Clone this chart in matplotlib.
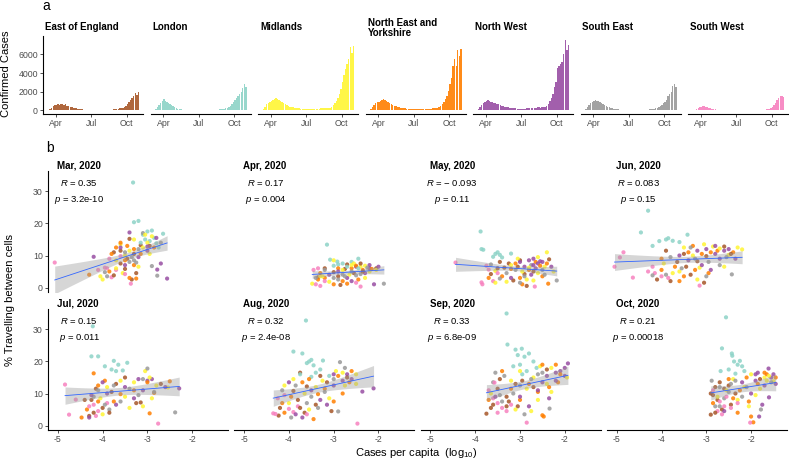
import numpy as np
import matplotlib.pyplot as plt

plt.rcParams['font.family'] = ['Liberation Sans', 'DejaVu Sans']
plt.rcParams['mathtext.fontset'] = 'custom'
plt.rcParams['mathtext.rm'] = 'Liberation Sans'
plt.rcParams['mathtext.it'] = 'Liberation Sans:italic'
plt.rcParams['axes.unicode_minus'] = False

W, H = 789, 463

# -----------------------------
# Regions (index used as the region code below)
# 0 East of England, 1 London, 2 Midlands, 3 North East and Yorkshire,
# 4 North West, 5 South East, 6 South West
# -----------------------------
region_titles = ["East of England", "London", "Midlands", "North East and\nYorkshire",
                 "North West", "South East", "South West"]
region_colors = ["#A65628", "#8DD3C7", "#FFF533", "#FF7F00", "#984EA3", "#999999", "#F781BF"]

# -----------------------------
# Panel a: daily confirmed cases, one value every 4 days from 5 Mar 2020
# -----------------------------
case_start_day = 4   # days after 1 Mar
case_step = 4
cases_eoe = [5, 20, 60, 150, 300, 450, 550, 620,
             680, 560, 650, 700, 600, 650, 520, 480,
             400, 350, 300, 260, 220, 180, 150,
             130, 110, 95, 80, 70, 60, 55,
             50, 45, 50, 45, 55, 50, 60, 55,
             65, 70, 75, 70, 90, 100, 110, 120,
             150, 200, 250, 300, 280, 400, 450,
             700, 900, 1100, 1300, 1500, 1900, 1700, 2000]
cases_london = [20, 60, 150, 350, 600, 850, 1050, 1180,
                1000, 900, 750, 650, 550, 450, 380, 300,
                200, 160, 120, 100, 80, 70, 60,
                50, 45, 40, 35, 35, 30, 30,
                30, 30, 35, 35, 40, 40, 45, 50,
                55, 60, 70, 80, 90, 110, 130, 150,
                180, 250, 300, 400, 500, 700, 900,
                1100, 1300, 1600, 1800, 2000, 2400, 2800, 2500]
cases_midlands = [10, 50, 200, 400, 650, 850, 950, 1000,
                  1100, 1200, 1300, 1250, 1150, 1000, 900, 800,
                  650, 550, 480, 420, 380, 330, 300,
                  280, 250, 230, 200, 190, 180, 170,
                  160, 160, 170, 170, 180, 180, 200, 190,
                  200, 220, 210, 230, 250, 270, 300, 280,
                  400, 600, 800, 1000, 1300, 1800, 2300,
                  3000, 3800, 4400, 5000, 5500, 6800, 6200, 6900]
cases_ney = [5, 30, 150, 350, 600, 800, 900, 950,
             1000, 1150, 1250, 1100, 1000, 900, 800, 700,
             600, 500, 430, 380, 330, 300, 270,
             250, 230, 200, 180, 170, 160, 150,
             150, 140, 140, 130, 130, 140, 150, 160,
             170, 180, 190, 200, 220, 230, 260, 280,
             350, 500, 700, 900, 1200, 1600, 2100,
             2800, 3500, 4800, 5500, 4800, 6500, 5800, 6600]
cases_nw = [5, 30, 150, 350, 600, 800, 950, 1000,
            1070, 1000, 950, 900, 850, 750, 700, 650,
            550, 500, 450, 400, 350, 320, 290,
            270, 250, 230, 210, 200, 190, 180,
            180, 190, 200, 210, 230, 250, 270, 290,
            300, 310, 330, 320, 300, 320, 350, 380,
            500, 700, 1000, 1300, 1800, 2500, 3000,
            4500, 4800, 5000, 5200, 6000, 7500, 6500, 7000]
cases_se = [5, 30, 150, 350, 600, 850, 950, 1050,
            1070, 1050, 1000, 900, 800, 700, 600, 500,
            400, 330, 270, 220, 180, 150, 130,
            110, 100, 90, 80, 70, 65, 60,
            55, 50, 50, 55, 55, 60, 60, 65,
            70, 75, 80, 90, 100, 110, 130, 150,
            180, 230, 300, 380, 450, 600, 800,
            900, 1100, 1500, 1800, 2000, 2600, 2850, 2500]
cases_sw = [2, 10, 40, 100, 200, 300, 380, 420,
            460, 440, 400, 350, 300, 250, 200, 160,
            130, 100, 80, 60, 50, 40, 35,
            30, 25, 25, 20, 20, 20, 20,
            20, 20, 20, 20, 25, 25, 25, 30,
            30, 35, 35, 40, 45, 50, 55, 60,
            70, 80, 100, 120, 150, 200, 250,
            400, 600, 800, 1100, 1300, 1500, 1600, 1400]
cases_all = [cases_eoe, cases_london, cases_midlands, cases_ney, cases_nw, cases_se, cases_sw]

month_ticks = [31, 122, 214]
month_labels = ["Apr", "Jul", "Oct"]
case_ticks = [0, 2000, 4000, 6000]

# -----------------------------
# Panel b: (log10 cases per capita, % travelling, region code)
# -----------------------------
panel_titles = ["Mar, 2020", "Apr, 2020", "May, 2020", "Jun, 2020",
                "Jul, 2020", "Aug, 2020", "Sep, 2020", "Oct, 2020"]
r_labels = ["0.35", "0.17", "\u2212 0.093", "0.083", "0.15", "0.32", "0.33", "0.21"]
p_labels = ["3.2e-10", "0.004", "0.11", "0.15", "0.011", "2.4e-08", "6.8e-09", "0.00018"]

mar_pts = [(-3.75, 11.0, 0), (-3.6, 11.5, 0), (-3.4, 15.2, 0), (-3.45, 9.0, 0), (-3.3, 10.5, 0), (-3.25, 4.5, 0), (-3.5, 5.8, 0), (-3.35, 2.5, 0), (-3.6, 7.5, 0), (-3.15, 13.2, 0),
           (-3.32, 32.8, 1), (-3.3, 20.4, 1), (-3.2, 20.8, 1), (-3.1, 16.5, 1), (-3.0, 17.5, 1), (-2.9, 17.8, 1), (-2.85, 15.5, 1), (-2.75, 12.5, 1), (-2.95, 14.5, 1), (-3.05, 15.0, 1), (-2.8, 13.8, 1), (-3.15, 14.0, 1),
           (-4.05, 3.5, 2), (-3.6, 13.5, 2), (-3.3, 15.0, 2), (-3.1, 12.5, 2), (-3.0, 14.0, 2), (-3.5, 10.0, 2), (-3.7, 8.5, 2), (-3.2, 6.5, 2), (-3.4, 11.5, 2), (-2.95, 10.5, 2), (-3.55, 4.5, 2),
           (-3.7, 12.5, 3), (-3.6, 14.0, 3), (-3.45, 13.0, 3), (-3.3, 12.0, 3), (-3.4, 3.0, 3), (-3.25, 2.8, 3), (-3.8, 10.5, 3), (-3.5, 8.5, 3), (-3.15, 10.5, 3), (-3.3, 7.0, 3),
           (-4.2, 9.6, 4), (-2.56, 2.8, 4), (-2.78, 5.6, 4), (-2.7, 7.5, 4), (-3.4, 17.2, 4), (-3.6, 12.5, 4), (-3.2, 9.5, 4), (-3.0, 11.5, 4), (-3.5, 7.0, 4),
           (-2.78, 3.7, 5), (-2.9, 6.7, 5), (-3.1, 17.0, 5), (-3.4, 8.0, 5), (-3.3, 8.5, 5), (-3.25, 7.8, 5), (-3.9, 3.5, 5), (-3.5, 11.0, 5), (-3.2, 12.0, 5), (-3.35, 9.5, 5),
           (-5.07, 7.8, 6), (-3.95, 6.2, 6), (-3.9, 6.0, 6), (-3.37, 1.2, 6), (-3.7, 5.5, 6), (-3.8, 3.2, 6), (-3.6, 9.8, 6), (-3.5, 4.2, 6), (-3.85, 9.0, 6),
           (-4.3, 4.0, 3), (-4.1, 5.5, 6), (-4.0, 2.5, 2), (-3.95, 4.8, 5), (-3.85, 5.0, 3), (-3.75, 3.8, 0), (-2.9, 16.0, 2), (-2.8, 15.5, 4),
           (-2.7, 14.0, 5), (-2.85, 12.5, 3), (-2.95, 13.0, 0), (-3.05, 16.5, 2), (-2.65, 16.8, 1), (-3.0, 12.8, 4), (-3.7, 6.0, 2)]

apr_pts = [(-3.2, 6.0, 0), (-2.9, 3.5, 0), (-2.75, 5.8, 0), (-2.55, 4.5, 0), (-2.05, 6.0, 0), (-3.0, 4.8, 0), (-2.7, 7.2, 0), (-2.85, 0.8, 0), (-3.35, 3.2, 0),
           (-3.15, 13.4, 1), (-3.08, 8.7, 1), (-2.92, 8.1, 1), (-2.45, 9.0, 1), (-2.8, 7.5, 1), (-2.6, 8.0, 1), (-3.0, 6.8, 1), (-2.7, 6.5, 1), (-2.9, 7.2, 1),
           (-3.48, 1.2, 2), (-3.3, 3.5, 2), (-2.8, 5.5, 2), (-2.55, 7.5, 2), (-2.4, 6.5, 2), (-3.0, 8.5, 2), (-2.65, 4.0, 2), (-3.1, 1.8, 2), (-2.2, 5.0, 2), (-2.3, 3.0, 2),
           (-3.2, 3.0, 3), (-3.0, 1.0, 3), (-2.8, 2.0, 3), (-2.6, 6.0, 3), (-2.35, 5.5, 3), (-2.9, 6.0, 3), (-3.3, 4.5, 3), (-2.7, 1.2, 3), (-2.45, 2.5, 3),
           (-2.1, 1.0, 4), (-2.3, 4.5, 4), (-2.5, 6.5, 4), (-2.7, 3.0, 4), (-2.9, 5.0, 4), (-2.2, 6.0, 4), (-3.1, 4.0, 4), (-2.6, 2.0, 4),
           (-1.88, 1.2, 5), (-2.8, 4.0, 5), (-2.75, 3.5, 5), (-2.6, 5.0, 5), (-3.0, 3.0, 5), (-2.4, 4.2, 5), (-2.9, 2.5, 5), (-3.2, 5.5, 5), (-2.5, 3.8, 5),
           (-3.45, 5.5, 6), (-3.4, 1.0, 6), (-3.3, 0.5, 6), (-2.4, 0.3, 6), (-3.2, 2.0, 6), (-3.35, 6.0, 6), (-2.5, 1.5, 6),
           (-2.3, 6.8, 2), (-2.2, 7.0, 4), (-2.4, 7.5, 0), (-2.15, 5.8, 3), (-2.25, 6.2, 5), (-2.5, 6.8, 3), (-2.35, 5.0, 0),
           (-2.05, 5.5, 2), (-2.0, 6.5, 4), (-3.35, 2.5, 3), (-3.25, 3.5, 2), (-3.4, 3.0, 5), (-2.45, 6.0, 1), (-2.6, 7.0, 2)]

may_pts = [(-3.45, 8.0, 0), (-3.25, 7.5, 0), (-3.05, 6.5, 0), (-2.9, 4.2, 0), (-3.15, 2.2, 0), (-2.85, 0.5, 0), (-3.35, 6.2, 0), (-2.7, 5.0, 0), (-3.0, 8.5, 0),
           (-3.88, 17.5, 1), (-3.86, 12.0, 1), (-3.82, 11.8, 1), (-3.55, 10.5, 1), (-3.45, 10.2, 1), (-3.2, 10.6, 1), (-3.4, 9.4, 1), (-3.6, 9.6, 1), (-3.5, 11.0, 1),
           (-2.4, 11.0, 2), (-3.55, 5.2, 2), (-3.2, 7.0, 2), (-2.95, 5.0, 2), (-2.85, 2.5, 2), (-3.05, 9.0, 2), (-2.6, 4.5, 2), (-3.3, 1.8, 2), (-2.7, 2.2, 2), (-2.45, 6.5, 2),
           (-2.37, 1.2, 3), (-3.4, 3.5, 3), (-3.1, 7.5, 3), (-2.8, 5.5, 3), (-2.95, 1.0, 3), (-3.2, 5.8, 3), (-2.5, 3.5, 3), (-2.65, 8.0, 3), (-3.0, 3.0, 3),
           (-2.8, 8.5, 4), (-2.7, 9.0, 4), (-2.6, 7.5, 4), (-2.9, 6.5, 4), (-3.0, 8.0, 4), (-2.55, 8.2, 4), (-2.75, 4.0, 4), (-3.2, 3.0, 4), (-2.65, 6.0, 4),
           (-2.18, 2.2, 5), (-3.65, 7.2, 5), (-3.1, 5.5, 5), (-2.9, 3.5, 5), (-3.3, 4.5, 5), (-2.75, 7.0, 5), (-2.5, 5.5, 5), (-3.0, 1.5, 5),
           (-4.44, 7.8, 6), (-3.86, 1.6, 6), (-3.84, 1.0, 6), (-2.67, 0.3, 6), (-3.7, 5.6, 6), (-3.75, 6.8, 6), (-3.5, 4.5, 6),
           (-2.3, 6.5, 4), (-2.25, 5.0, 2), (-2.4, 7.5, 3), (-2.5, 8.0, 4), (-2.45, 4.0, 5), (-2.6, 9.5, 2), (-2.35, 8.8, 0), (-2.55, 6.8, 3),
           (-3.7, 3.0, 3), (-3.6, 2.0, 6), (-3.65, 4.2, 0), (-3.55, 1.5, 2), (-3.45, 2.8, 5), (-3.5, 6.0, 0), (-2.7, 7.0, 4), (-2.8, 6.2, 2)]

jun_pts = [(-3.9, 11.5, 0), (-3.65, 8.0, 0), (-3.45, 6.5, 0), (-3.35, 4.0, 0), (-3.2, 8.2, 0), (-3.0, 9.8, 0), (-3.8, 2.0, 0), (-3.5, 10.5, 0), (-3.05, 1.5, 0),
           (-4.3, 24.0, 1), (-4.46, 17.2, 1), (-4.05, 14.5, 1), (-3.9, 15.0, 1), (-3.85, 15.4, 1), (-3.75, 14.6, 1), (-3.6, 14.2, 1), (-3.42, 16.5, 1), (-4.2, 13.0, 1),
           (-2.2, 11.9, 2), (-3.5, 12.5, 2), (-3.3, 10.0, 2), (-3.05, 13.5, 2), (-2.85, 12.8, 2), (-3.6, 5.0, 2), (-3.2, 2.5, 2), (-2.6, 6.5, 2), (-3.95, 7.5, 2), (-2.5, 10.2, 2), (-3.15, 6.2, 2),
           (-3.4, 11.0, 3), (-3.3, 13.0, 3), (-2.75, 11.5, 3), (-3.7, 6.5, 3), (-3.5, 3.5, 3), (-3.1, 10.5, 3), (-4.0, 9.0, 3), (-2.95, 4.5, 3), (-3.25, 5.5, 3),
           (-3.2, 11.5, 4), (-3.0, 12.0, 4), (-2.8, 10.5, 4), (-2.6, 11.5, 4), (-3.4, 8.5, 4), (-3.1, 7.0, 4), (-2.9, 5.5, 4), (-3.6, 10.0, 4), (-2.7, 9.0, 4),
           (-2.43, 4.1, 5), (-3.8, 9.5, 5), (-3.55, 6.0, 5), (-3.25, 9.0, 5), (-2.95, 8.0, 5), (-2.7, 7.0, 5), (-3.0, 3.5, 5), (-3.9, 4.0, 5), (-3.35, 12.5, 5),
           (-5.05, 6.5, 6), (-4.93, 9.4, 6), (-4.85, 11.0, 6), (-4.64, 3.1, 6), (-3.15, 0.6, 6), (-4.3, 5.0, 6), (-4.2, 6.5, 6), (-4.15, 4.5, 6), (-4.0, 3.5, 6),
           (-2.5, 12.0, 4), (-2.4, 11.0, 3), (-2.3, 12.5, 2), (-2.6, 12.8, 0), (-2.7, 12.2, 2), (-2.55, 9.5, 5), (-2.8, 13.0, 4), (-2.45, 10.5, 0),
           (-2.35, 9.0, 4), (-2.9, 11.0, 3), (-4.1, 2.5, 0), (-4.0, 5.5, 3), (-3.85, 3.0, 6), (-4.2, 3.8, 5), (-3.75, 4.5, 2), (-3.6, 2.0, 3)]

jul_pts = [(-4.4, 8.0, 0), (-4.25, 8.0, 0), (-4.3, 3.0, 0), (-4.0, 5.5, 0), (-3.8, 10.5, 0), (-3.5, 15.0, 0), (-3.25, 7.0, 0), (-3.15, 7.2, 0), (-3.7, 13.0, 0), (-4.15, 11.5, 0),
           (-4.22, 31.0, 1), (-4.25, 21.6, 1), (-4.1, 21.6, 1), (-3.95, 18.5, 1), (-3.8, 17.5, 1), (-3.75, 20.2, 1), (-3.65, 19.0, 1), (-3.55, 17.2, 1), (-3.45, 19.6, 1), (-3.7, 17.0, 1),
           (-2.54, 11.9, 2), (-3.05, 17.0, 2), (-3.4, 5.5, 2), (-3.1, 6.0, 2), (-3.6, 14.0, 2), (-3.9, 12.0, 2), (-4.05, 8.5, 2), (-3.3, 13.5, 2), (-2.9, 8.5, 2), (-3.5, 9.0, 2),
           (-4.47, 2.5, 3), (-4.2, 16.3, 3), (-4.35, 5.0, 3), (-3.95, 14.0, 3), (-3.6, 9.8, 3), (-3.3, 11.0, 3), (-2.95, 3.8, 3), (-2.85, 10.2, 3), (-3.75, 7.5, 3), (-4.1, 12.5, 3),
           (-2.29, 11.6, 4), (-4.3, 2.5, 4), (-3.2, 14.5, 4), (-3.0, 14.0, 4), (-3.5, 12.0, 4), (-3.7, 6.5, 4), (-3.9, 10.0, 4), (-3.3, 8.5, 4), (-3.1, 11.0, 4), (-4.0, 13.5, 4),
           (-2.38, 4.1, 5), (-3.0, 17.8, 5), (-3.85, 5.0, 5), (-3.6, 7.5, 5), (-3.4, 11.5, 5), (-4.1, 11.0, 5), (-3.2, 9.5, 5), (-3.75, 12.5, 5), (-4.2, 9.0, 5),
           (-4.84, 12.8, 6), (-4.75, 3.4, 6), (-4.6, 8.1, 6), (-2.76, 0.6, 6), (-4.2, 6.5, 6), (-4.1, 4.5, 6), (-4.15, 3.0, 6), (-3.9, 7.0, 6),
           (-3.0, 13.5, 3), (-2.9, 14.5, 4), (-2.8, 12.5, 2), (-2.7, 13.0, 0), (-2.6, 12.0, 4), (-2.95, 15.0, 2), (-3.1, 14.5, 5), (-2.5, 13.8, 3),
           (-4.3, 6.0, 6), (-4.2, 4.0, 0), (-4.1, 7.5, 3), (-4.0, 3.5, 2), (-3.95, 6.5, 5), (-4.25, 9.5, 4), (-3.85, 4.0, 0), (-2.85, 10.5, 5)]

aug_pts = [(-4.23, 3.1, 0), (-3.75, 16.5, 0), (-3.8, 8.0, 0), (-3.6, 12.2, 0), (-3.4, 6.5, 0), (-3.15, 13.5, 0), (-3.05, 4.5, 0), (-3.65, 4.0, 0), (-3.9, 10.8, 0), (-3.3, 15.5, 0),
           (-3.62, 32.8, 1), (-3.9, 23.1, 1), (-3.7, 22.5, 1), (-3.55, 20.0, 1), (-3.5, 20.5, 1), (-3.45, 18.8, 1), (-3.24, 20.3, 1), (-3.6, 19.5, 1), (-3.4, 16.5, 1), (-3.3, 17.5, 1), (-3.1, 15.5, 1), (-3.75, 16.0, 1), (-3.5, 15.2, 1),
           (-2.95, 17.0, 2), (-3.25, 14.0, 2), (-3.4, 12.0, 2), (-3.65, 10.0, 2), (-3.9, 14.5, 2), (-3.1, 8.5, 2), (-4.1, 12.5, 2), (-2.75, 12.5, 2), (-3.55, 5.0, 2), (-2.5, 13.0, 2),
           (-3.95, 9.0, 3), (-3.7, 13.5, 3), (-3.45, 2.0, 3), (-3.2, 11.5, 3), (-3.0, 7.5, 3), (-2.8, 10.0, 3), (-4.15, 7.0, 3), (-3.55, 14.5, 3), (-2.6, 17.0, 3), (-3.35, 9.8, 3),
           (-2.11, 11.6, 4), (-2.36, 10.6, 4), (-3.7, 2.5, 4), (-3.3, 8.0, 4), (-3.0, 12.5, 4), (-2.8, 14.0, 4), (-3.5, 11.0, 4), (-4.0, 13.5, 4), (-3.15, 6.5, 4), (-2.7, 16.0, 4),
           (-2.9, 4.4, 5), (-2.86, 19.8, 5), (-3.85, 12.5, 5), (-3.5, 9.0, 5), (-3.2, 10.5, 5), (-3.6, 7.0, 5), (-4.15, 11.0, 5), (-3.35, 5.5, 5), (-3.0, 14.5, 5),
           (-4.35, 3.8, 6), (-4.3, 3.6, 6), (-4.0, 5.2, 6), (-3.9, 4.2, 6), (-3.8, 6.0, 6), (-2.47, 0.6, 6), (-4.1, 9.5, 6), (-3.6, 3.5, 6),
           (-2.8, 16.5, 2), (-2.7, 15.0, 0), (-2.6, 14.5, 4), (-2.9, 15.5, 3), (-2.75, 18.0, 5), (-2.5, 16.0, 2), (-3.0, 16.0, 4), (-2.65, 13.5, 3),
           (-4.2, 5.5, 0), (-4.1, 4.0, 3), (-4.0, 7.0, 2), (-3.95, 2.5, 5), (-3.85, 3.5, 4), (-4.25, 8.5, 6), (-3.75, 5.5, 0)]

sep_pts = [(-3.75, 3.7, 0), (-3.5, 11.5, 0), (-3.3, 9.0, 0), (-3.1, 13.0, 0), (-3.25, 7.5, 0), (-3.45, 14.5, 0), (-2.95, 14.0, 0), (-3.05, 6.0, 0), (-2.7, 12.0, 0), (-3.65, 5.5, 0),
           (-3.3, 35.0, 1), (-3.28, 25.3, 1), (-3.1, 23.7, 1), (-2.96, 24.0, 1), (-3.05, 22.0, 1), (-2.9, 21.5, 1), (-2.8, 22.5, 1), (-3.0, 19.0, 1), (-2.7, 20.0, 1), (-2.63, 18.0, 1), (-3.15, 18.5, 1), (-2.85, 17.0, 1), (-2.95, 16.0, 1),
           (-3.0, 17.0, 2), (-2.7, 15.0, 2), (-2.55, 18.5, 2), (-2.4, 13.0, 2), (-2.85, 11.5, 2), (-3.2, 14.0, 2), (-2.6, 8.0, 2), (-3.1, 5.0, 2), (-2.3, 10.5, 2), (-2.75, 4.5, 2),
           (-2.47, 2.8, 3), (-2.5, 3.2, 3), (-3.4, 17.0, 3), (-3.0, 8.0, 3), (-2.8, 13.0, 3), (-2.6, 10.5, 3), (-2.35, 12.0, 3), (-2.15, 13.5, 3), (-3.2, 11.5, 3), (-2.2, 19.0, 3),
           (-1.93, 19.4, 4), (-2.2, 14.0, 4), (-2.1, 17.0, 4), (-2.4, 15.5, 4), (-2.6, 11.0, 4), (-2.35, 8.5, 4), (-2.8, 6.0, 4), (-2.5, 13.5, 4), (-2.0, 15.5, 4), (-3.0, 9.0, 4),
           (-2.34, 5.3, 5), (-3.6, 13.5, 5), (-3.35, 15.5, 5), (-3.15, 10.0, 5), (-3.0, 12.5, 5), (-2.75, 14.5, 5), (-2.5, 16.5, 5), (-3.45, 9.5, 5), (-2.9, 3.5, 5), (-3.55, 16.5, 5),
           (-2.85, 0.9, 6), (-3.57, 13.4, 6), (-3.5, 7.0, 6), (-3.4, 5.5, 6), (-3.3, 4.5, 6), (-3.6, 8.5, 6), (-3.2, 6.5, 6), (-3.7, 11.0, 6),
           (-2.3, 18.0, 2), (-2.2, 16.5, 4), (-2.1, 16.0, 3), (-2.0, 18.0, 4), (-2.4, 17.5, 0), (-2.5, 19.0, 3), (-1.95, 15.0, 2), (-2.6, 16.0, 5),
           (-3.6, 6.5, 0), (-3.7, 8.0, 3), (-3.5, 4.0, 6), (-3.4, 7.5, 5), (-3.65, 10.0, 2), (-3.55, 9.0, 4), (-3.3, 6.0, 0)]

oct_pts = [(-2.9, 3.4, 0), (-2.85, 9.5, 0), (-2.7, 13.5, 0), (-2.6, 11.5, 0), (-2.75, 8.0, 0), (-2.5, 12.5, 0), (-2.65, 5.0, 0), (-2.35, 10.0, 0), (-2.8, 12.0, 0), (-2.45, 6.5, 0),
           (-2.56, 33.8, 1), (-2.65, 24.1, 1), (-2.43, 22.5, 1), (-2.42, 21.8, 1), (-2.38, 20.0, 1), (-2.3, 19.0, 1), (-2.2, 18.5, 1), (-2.68, 17.0, 1), (-2.25, 20.2, 1), (-2.5, 17.5, 1), (-2.15, 17.0, 1), (-2.35, 16.2, 1),
           (-1.5, 13.8, 2), (-1.7, 15.0, 2), (-2.0, 16.0, 2), (-2.15, 12.0, 2), (-2.3, 8.0, 2), (-1.9, 9.5, 2), (-2.4, 14.5, 2), (-1.8, 11.5, 2), (-2.55, 11.0, 2), (-2.05, 6.0, 2),
           (-2.0, 2.8, 3), (-1.95, 1.0, 3), (-1.65, 16.0, 3), (-1.85, 13.0, 3), (-2.1, 15.0, 3), (-2.25, 11.0, 3), (-2.4, 8.5, 3), (-2.5, 14.5, 3), (-2.05, 7.5, 3), (-2.3, 4.0, 3),
           (-1.82, 2.8, 4), (-1.61, 17.8, 4), (-1.6, 8.8, 4), (-1.7, 12.5, 4), (-1.9, 14.0, 4), (-1.55, 15.0, 4), (-2.0, 10.0, 4), (-1.75, 6.5, 4), (-2.2, 13.5, 4), (-1.85, 16.5, 4), (-1.45, 13.0, 4),
           (-1.78, 5.0, 5), (-2.88, 14.0, 5), (-2.7, 12.0, 5), (-2.5, 10.5, 5), (-2.35, 14.0, 5), (-2.6, 8.5, 5), (-2.2, 9.0, 5), (-2.8, 6.0, 5), (-2.1, 12.0, 5), (-2.45, 13.0, 5),
           (-2.02, 0.9, 6), (-2.7, 7.5, 6), (-2.6, 6.0, 6), (-2.75, 4.5, 6), (-2.45, 5.5, 6), (-2.55, 9.0, 6), (-2.85, 11.0, 6), (-2.3, 7.0, 6),
           (-1.6, 15.5, 2), (-1.5, 16.0, 4), (-1.7, 16.5, 3), (-1.8, 14.5, 0), (-1.55, 13.5, 5), (-1.65, 14.0, 2), (-1.9, 16.0, 4), (-1.45, 15.0, 3),
           (-2.8, 4.0, 0), (-2.7, 6.0, 5), (-2.85, 7.0, 3), (-2.75, 9.0, 2), (-2.65, 3.5, 6), (-2.9, 10.0, 0), (-2.6, 4.5, 4)]

month_pts = [mar_pts, apr_pts, may_pts, jun_pts, jul_pts, aug_pts, sep_pts, oct_pts]

x_ticks = [-5, -4, -3, -2]
y_ticks = [0, 10, 20, 30]


def px_axes(fig, left, top, width, height):
    return fig.add_axes([left / W, 1 - (top + height) / H, width / W, height / H])


def style_axes(ax, show_left, show_bottom):
    for side in ["top", "right"]:
        ax.spines[side].set_visible(False)
    ax.spines["left"].set_visible(show_left)
    ax.spines["bottom"].set_visible(show_bottom)
    for side in ["left", "bottom"]:
        ax.spines[side].set_linewidth(0.8)
    ax.tick_params(colors="#333333", labelcolor="#4D4D4D", labelsize=6.3,
                   length=2.2, width=0.6, pad=1.5)
    ax.tick_params(axis="y", left=show_left, labelleft=show_left)
    ax.tick_params(axis="x", bottom=show_bottom, labelbottom=show_bottom)
    ax.patch.set_alpha(0)


fig = plt.figure(figsize=(W / 100, H / 100), dpi=100)

# -----------------------------
# Panel a
# -----------------------------
for i, (vals, col, title) in enumerate(zip(cases_all, region_colors, region_titles)):
    left = 43 + i * 107.5
    ax = px_axes(fig, left, 36, 100, 78)
    days = case_start_day + case_step * np.arange(len(vals))
    ax.bar(days, vals, width=case_step * 0.92, color=col, alpha=0.9, linewidth=0)
    ax.set_xlim(-2.5, 256)
    ax.set_ylim(-380, 7980)
    ax.set_xticks(month_ticks)
    ax.set_xticklabels(month_labels)
    ax.set_yticks(case_ticks)
    style_axes(ax, i == 0, True)
    fig.text((left + 2) / W, 1 - 27.5 / H, title, fontsize=7, fontweight="bold",
             ha="left", va="center", linespacing=1.0)

fig.text(6.5 / W, 1 - 74 / H, "Confirmed Cases", rotation=90, fontsize=8,
         ha="center", va="center")
fig.text(46 / W, 1 - 6 / H, "a", fontsize=10, ha="center", va="center")

# -----------------------------
# Panel b
# -----------------------------
for m in range(8):
    row, colm = divmod(m, 4)
    left = 48 + colm * 186.3
    top = 171 if row == 0 else 309
    ax = px_axes(fig, left, top, 180, 121)
    pts = np.array(month_pts[m])
    x, y, reg = pts[:, 0], pts[:, 1], pts[:, 2].astype(int)

    # linear fit with 95% band
    b, a = np.polyfit(x, y, 1)
    xs = np.linspace(x.min(), x.max(), 80)
    n = len(x)
    s = np.sqrt(np.sum((y - (a + b * x)) ** 2) / (n - 2))
    se = s * np.sqrt(1 / n + (xs - x.mean()) ** 2 / np.sum((x - x.mean()) ** 2))
    ax.fill_between(xs, a + b * xs - 1.99 * se, a + b * xs + 1.99 * se,
                    color="#999999", alpha=0.4, linewidth=0, zorder=3)

    ax.scatter(x, y, s=9, c=[region_colors[r] for r in reg], alpha=0.85,
               linewidths=0, zorder=2)
    ax.plot(xs, a + b * xs, color="#3366FF", linewidth=0.6, zorder=4)

    ax.set_xlim(-5.22, -1.2)
    ax.set_ylim(-1.4, 36.4)
    ax.set_xticks(x_ticks)
    ax.set_yticks(y_ticks)
    style_axes(ax, colm == 0, row == 1)

    ax.text(-4.52, 32.7, "$R$ = " + r_labels[m], fontsize=6.8, ha="center", va="center")
    ax.text(-4.52, 27.3, "$p$ = " + p_labels[m], fontsize=6.8, ha="center", va="center")
    fig.text((left + 9) / W, 1 - (top - 5) / H, panel_titles[m], fontsize=7,
             fontweight="bold", ha="left", va="center")

fig.text(10 / W, 1 - 300 / H, "% Travelling between cells", rotation=90,
         fontsize=8, ha="center", va="center")
fig.text(416 / W, 1 - 453 / H, "Cases per capita  (log$_{10}$)", fontsize=8,
         ha="center", va="center")
fig.text(50 / W, 1 - 148 / H, "b", fontsize=10, ha="center", va="center")

fig.savefig("out.png", dpi=100)
